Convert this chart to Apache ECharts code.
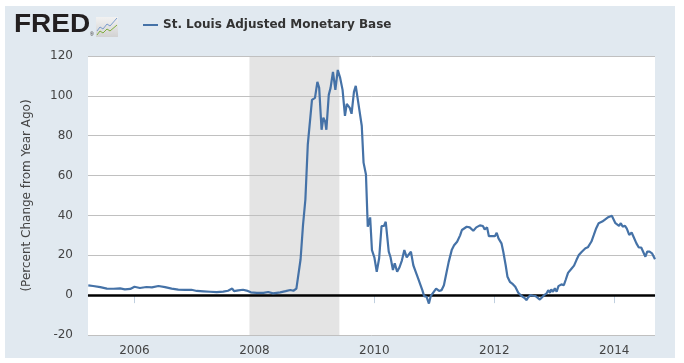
<!DOCTYPE html>
<html>
<head>
<meta charset="utf-8">
<script src="https://cdn.jsdelivr.net/npm/echarts@6/dist/echarts.min.js"></script>
<style>
html,body{margin:0;padding:0;background:#ffffff;}
#bg{position:absolute;left:5px;top:6px;width:670px;height:352px;background:#e1e9f0;}
#chart{position:absolute;left:0;top:0;width:684px;height:363px;}
</style>
</head>
<body>
<div id="bg"></div>
<div id="chart"></div>
<script>
// Time positions (decimal years) and values (percent change from year ago)
const times = [
2005.23,2005.31,2005.43,2005.54,2005.65,2005.76,2005.84,2005.93,
2006.00,2006.09,2006.20,2006.29,2006.40,2006.51,2006.62,2006.73,2006.84,2006.95,
2007.04,2007.15,2007.26,2007.37,2007.48,2007.56,2007.63,2007.66,2007.73,2007.81,2007.87,2007.94,
2008.04,2008.15,2008.23,2008.31,2008.43,2008.52,2008.60,2008.65,2008.70,2008.77,2008.81,2008.85,2008.89,2008.92,2008.96,
2009.01,2009.05,2009.08,2009.12,2009.15,2009.18,2009.20,2009.24,2009.27,2009.31,2009.35,2009.39,2009.43,2009.47,2009.51,2009.54,2009.59,2009.62,2009.66,2009.69,2009.74,2009.79,2009.82,2009.86,2009.89,2009.93,2009.96,
2010.00,2010.04,2010.08,2010.12,2010.16,2010.19,2010.24,2010.27,2010.31,2010.34,2010.38,2010.42,2010.46,2010.50,2010.54,2010.57,2010.61,2010.65,2010.69,2010.73,2010.77,2010.80,2010.83,2010.87,2010.89,2010.91,2010.94,2010.97,
2011.03,2011.08,2011.12,2011.16,2011.20,2011.24,2011.29,2011.33,2011.38,2011.43,2011.46,2011.49,2011.54,2011.59,2011.65,2011.70,2011.76,2011.81,2011.84,2011.88,2011.91,2011.97,
2012.01,2012.04,2012.07,2012.12,2012.15,2012.19,2012.22,2012.26,2012.31,2012.35,2012.40,2012.45,2012.50,2012.54,2012.56,2012.60,2012.65,2012.69,2012.72,2012.76,2012.79,2012.83,2012.87,2012.90,2012.93,2012.95,2012.98,
2013.01,2013.04,2013.07,2013.12,2013.16,2013.19,2013.23,2013.29,2013.33,2013.37,2013.41,2013.46,2013.52,2013.56,2013.62,2013.66,2013.70,2013.74,2013.80,2013.84,2013.90,2013.96,2013.99,
2014.02,2014.05,2014.08,2014.11,2014.14,2014.18,2014.21,2014.25,2014.29,2014.32,2014.37,2014.41,2014.45,2014.48,2014.52,2014.55,2014.59,2014.63,2014.68
];
const values = [
4.9,4.6,4.0,3.3,3.2,3.4,2.9,3.1,
4.2,3.6,4.1,3.9,4.6,4.0,3.3,2.8,2.6,2.7,
2.1,1.9,1.7,1.5,1.8,2.2,3.3,2.0,2.4,2.7,2.3,1.4,
1.1,1.1,1.6,0.9,1.4,2.0,2.6,2.2,3.3,18,35,48,75.5,75,98,
99,107,104,83,89,87,83,100.5,104,112,103,113,109,103,90,96,94,91,102,105,95,85,66.5,60.5,34.3,39,22.6,
19,11.7,18.5,34.7,34.7,36.8,21.8,19,12.6,16,11.7,14,17.5,22.6,19,19,21.8,15,11.7,8.4,5,2.5,-0.5,-0.8,-1.7,-4.2,-0.5,-0.5,
3.3,2.1,2.5,5,10.9,16.7,22.6,25,26.8,30,32.7,32,34.3,34,32.3,34,35,34.7,33,34,29.6,29.6,
29.6,31.3,28.5,26,21.8,15,9.2,6.7,5.5,4.2,1.2,-0.3,-1.3,-2.5,-1.3,0,-0.3,-0.5,-1.2,-2.2,-1.3,0,0.8,2.5,1.2,2.9,1.7,
3.4,1.7,4.5,5.4,5,7.6,11.2,13.4,14.8,17.6,20.1,21.8,23.5,24,26.9,30.2,33.6,36.1,36.9,37.8,39.1,39.8,39.5,
36.1,36.9,34.8,36.1,34.4,34.8,33.4,30.2,31.4,29.4,26,23.9,23.9,24.7,19.3,21.8,21.8,21,18
];
const xTickYears = [2006, 2008, 2010, 2012, 2014];
const recession = [2007.917, 2009.417];
const seriesName = 'St. Louis Adjusted Monetary Base';
const yAxisTitle = '(Percent Change from Year Ago)';

const lineData = times.map((t, i) => [t, values[i]]);
const font = '"DejaVu Sans", Verdana, sans-serif';

const chart = echarts.init(document.getElementById('chart'), null, {renderer: 'canvas'});
chart.setOption({
  backgroundColor: 'transparent',
  animation: false,
  grid: {left: 88, top: 56, right: 29, bottom: 28, show: true, backgroundColor: '#ffffff', borderWidth: 0},
  legend: {
    data: [seriesName],
    left: 143, top: 19, padding: 0,
    icon: 'rect', itemWidth: 15, itemHeight: 2, itemGap: 5,
    textStyle: {fontFamily: font, fontWeight: 'bold', fontSize: 12, color: '#333333'}
  },
  xAxis: {
    type: 'value', min: 2005.225, max: 2014.68,
    axisLine: {show: true, lineStyle: {color: '#c0d0e0', width: 1}},
    axisTick: {show: true, customValues: xTickYears, length: 8, lineStyle: {color: '#c0d0e0'}},
    axisLabel: {customValues: xTickYears, formatter: v => String(Math.round(v)), fontFamily: font, fontSize: 12, color: '#444444', margin: 10},
    splitLine: {show: false}
  },
  yAxis: {
    type: 'value', min: -20, max: 120, interval: 20, z: 2,
    name: yAxisTitle, nameLocation: 'middle', nameRotate: 90, nameGap: 55,
    nameTextStyle: {fontFamily: font, fontSize: 12, color: '#444444'},
    axisLine: {show: false}, axisTick: {show: false},
    axisLabel: {fontFamily: font, fontSize: 12, color: '#444444', margin: 15},
    splitLine: {lineStyle: {color: '#c0c0c0', width: 1}}
  },
  graphic: [
    {type: 'text', x: 14, y: 13, scaleX: 1.12, z: 10,
     style: {text: 'FRED', font: 'bold 25px "Liberation Sans", Arial, sans-serif', fill: '#231f20'}},
    {type: 'text', x: 90, y: 32, z: 10,
     style: {text: '®', font: '5px "Liberation Sans", sans-serif', fill: '#231f20'}},
    {type: 'rect', shape: {x: 96, y: 17, width: 22, height: 20}, z: 10,
     style: {fill: {type: 'linear', x: 0, y: 0, x2: 0, y2: 1, colorStops: [{offset: 0, color: '#f2f2f2'}, {offset: 1, color: '#d2d2d2'}]}}},
    {type: 'polyline', z: 11, shape: {points: [[97,31],[100,27],[103,29],[107,24],[110,26],[117,18]]},
     style: {stroke: '#7b9ccc', lineWidth: 1, fill: null}},
    {type: 'polyline', z: 11, shape: {points: [[97,35],[100,31],[103,33],[107,29],[110,31],[117,25]]},
     style: {stroke: '#7fae3e', lineWidth: 1, fill: null}}
  ],
  series: [
    {
      type: 'line', name: 'recession', data: [], z: 1, silent: true,
      markArea: {silent: true, itemStyle: {color: '#e4e4e4'}, data: [[{xAxis: recession[0]}, {xAxis: recession[1]}]]}
    },
    {
      type: 'line', name: seriesName, data: lineData, z: 5,
      showSymbol: false, symbol: 'none',
      lineStyle: {color: '#4572a7', width: 2.2},
      itemStyle: {color: '#4572a7'},
      markLine: {silent: true, symbol: 'none', label: {show: false},
        lineStyle: {color: '#000000', width: 2.5, type: 'solid'}, data: [{yAxis: 0}]}
    }
  ]
});
</script>
</body>
</html>
